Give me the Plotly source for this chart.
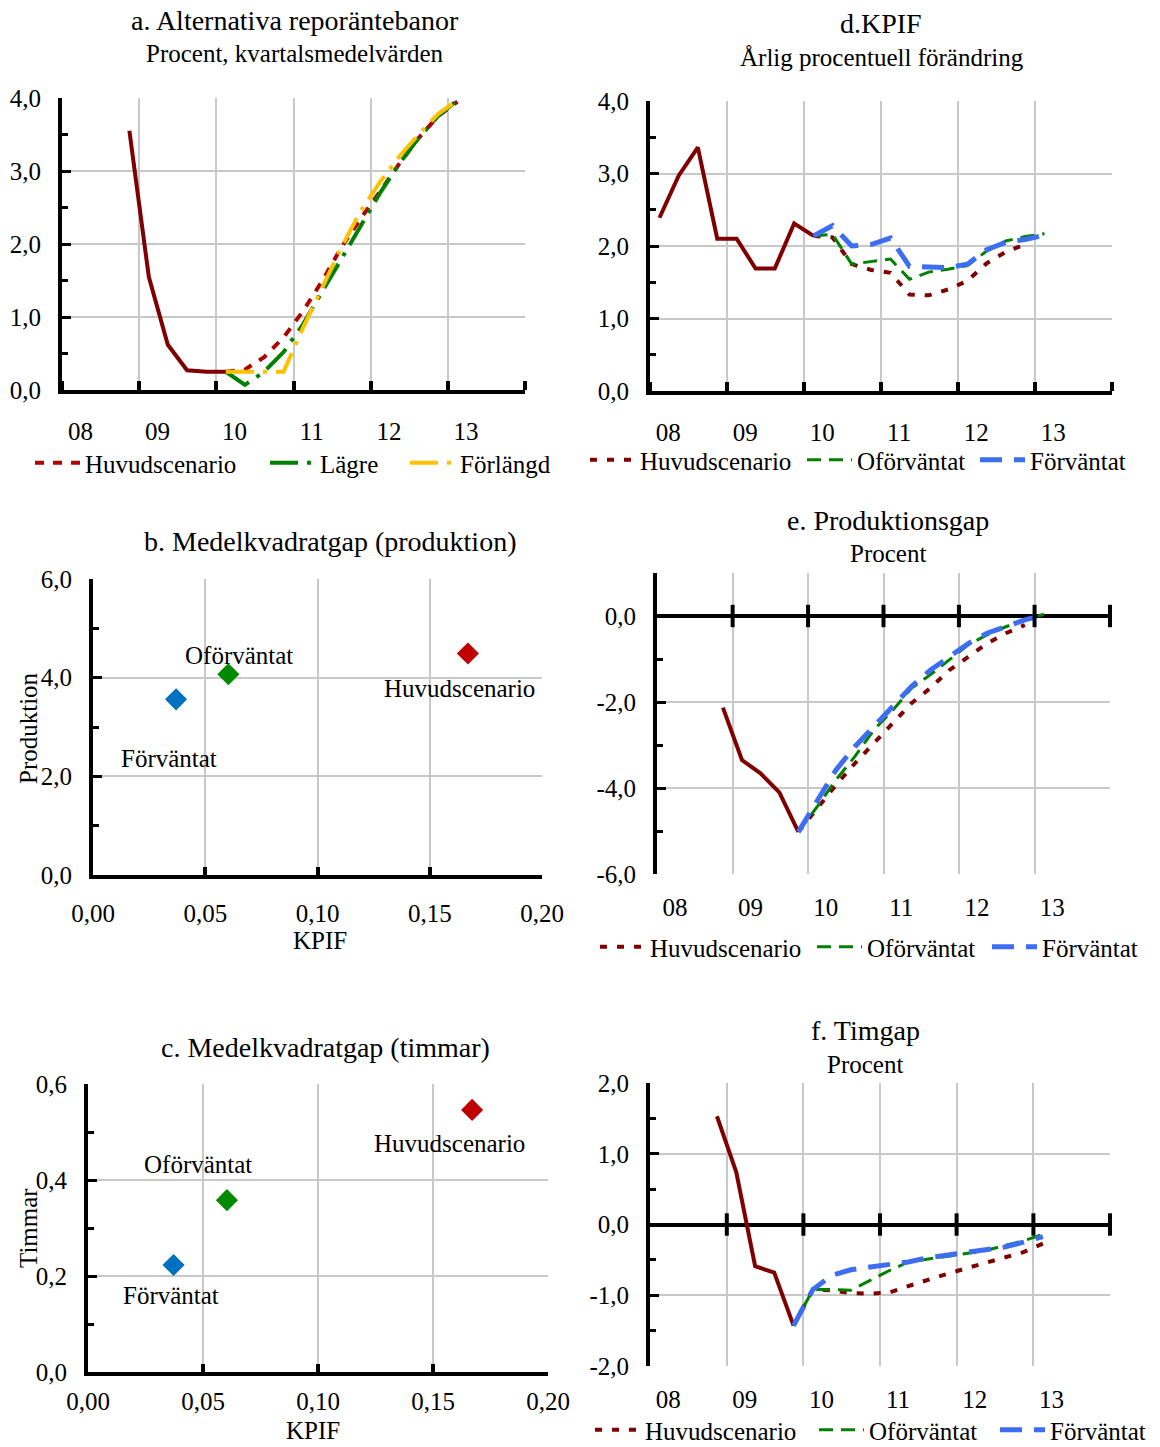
import plotly.graph_objects as go
import pandas as pd

W, H = 1160, 1447
FONT = "Liberation Serif, Times New Roman, serif"
GRID = "#c8c8c8"
DARKRED = "#7f0000"
RED_A = "#b00000"
GREEN = "#008000"
YELLOW = "#ffc000"
BLUE = "#3d6ef2"
SC_RED = "#c00000"
SC_GREEN = "#008a00"
SC_BLUE = "#0070c0"

# ---------------- data ----------------
YEAR_LABELS = ["08", "09", "10", "11", "12", "13"]
LABEL_YEARS = [2008, 2009, 2010, 2011, 2012, 2013]

# a. Alternativa reporäntebanor
A_HIST_Q = ["2008Q4", "2009Q1", "2009Q2", "2009Q3", "2009Q4", "2010Q1"]
A_HIST = [3.55, 1.55, 0.62, 0.27, 0.25, 0.25]
A_FC_Q = ["2010Q1", "2010Q2", "2010Q3", "2010Q4", "2011Q1", "2011Q2", "2011Q3",
          "2011Q4", "2012Q1", "2012Q2", "2012Q3", "2012Q4", "2013Q1"]
A_HUVUD = [0.25, 0.28, 0.45, 0.72, 1.08, 1.49, 1.95, 2.35, 2.72, 3.10, 3.45, 3.75, 3.95]
A_LAGRE = [0.25, 0.07, 0.25, 0.52, 0.90, 1.35, 1.80, 2.25, 2.70, 3.10, 3.45, 3.75, 3.97]
A_FORL = [0.25, 0.25, 0.25, 0.25, 0.85, 1.40, 1.95, 2.45, 2.85, 3.20, 3.50, 3.78, 3.97]

# d. KPIF
D_HIST_Q = ["2008Q1", "2008Q2", "2008Q3", "2008Q4", "2009Q1", "2009Q2", "2009Q3",
            "2009Q4", "2010Q1"]
D_HIST = [2.39, 2.97, 3.36, 2.10, 2.10, 1.69, 1.69, 2.31, 2.14]
D_FC_Q = A_FC_Q
D_HUVUD = [2.14, 2.12, 1.75, 1.67, 1.63, 1.33, 1.32, 1.40, 1.52, 1.76, 1.92, 2.02]
D_OFORV = [2.14, 2.16, 1.75, 1.78, 1.82, 1.54, 1.64, 1.68, 1.73, 1.93, 2.07, 2.13, 2.17]
D_FORV = [2.14, 2.28, 2.00, 2.02, 2.11, 1.72, 1.71, 1.70, 1.75, 1.95, 2.05, 2.09, 2.15]

# e. Produktionsgap
E_HIST_Q = ["2008Q4", "2009Q1", "2009Q2", "2009Q3", "2009Q4"]
E_HIST = [-2.13, -3.35, -3.66, -4.10, -5.02]
E_FC_Q = ["2009Q4"] + A_FC_Q
E_HUVUD = [-5.02, -4.47, -3.93, -3.43, -2.96, -2.50, -2.03, -1.68, -1.26, -0.95, -0.64, -0.40, -0.21]
E_OFORV = [-5.02, -4.43, -3.81, -3.27, -2.65, -2.19, -1.68, -1.37, -1.02, -0.67, -0.44, -0.25, -0.09, 0.04]
E_FORV = [-5.02, -4.28, -3.58, -3.04, -2.57, -2.11, -1.64, -1.26, -0.95, -0.64, -0.40, -0.25, -0.09, 0.02]

# f. Timgap
F_HIST_Q = E_HIST_Q
F_HIST = [1.53, 0.74, -0.59, -0.68, -1.43]
F_FC_Q = E_FC_Q
F_HUVUD = [-1.43, -0.92, -0.93, -0.97, -0.98, -0.96, -0.87, -0.78, -0.70, -0.62, -0.54, -0.46, -0.39, -0.27]
F_OFORV = [-1.43, -0.92, -0.92, -0.93, -0.79, -0.65, -0.53, -0.49, -0.44, -0.41, -0.37, -0.30, -0.23, -0.14]
F_FORV = [-1.43, -0.92, -0.72, -0.64, -0.60, -0.57, -0.53, -0.47, -0.43, -0.40, -0.36, -0.32, -0.25, -0.17]

# b./c. Medelkvadratgap
SC_NAMES = ["Huvudscenario", "Oförväntat", "Förväntat"]
B_KPIF = [0.167, 0.0603, 0.037]
B_PROD = [4.49, 4.07, 3.56]
C_KPIF = [0.167, 0.0604, 0.0372]
C_TIM = [0.546, 0.358, 0.223]

# ---------------- helpers ----------------
def qdates(qs):
    return [(p.start_time + pd.Timedelta(days=45)).strftime("%Y-%m-%d")
            for p in pd.PeriodIndex(qs, freq="Q")]


def xdom(x0, x1):
    return [x0 / W, x1 / W]


def ydom(y0, y1):
    return [1 - y1 / H, 1 - y0 / H]


FS = 25
TICKFONT = dict(family=FONT, size=FS, color="black")


def comma(v, nd):
    return f"{v:.{nd}f}".replace(".", ",")


def time_axes(xpx, ypx, yticks, mdtick, zero_mid):
    xa = dict(
        domain=xdom(*xpx), type="date", range=["2008-01-01", "2014-01-01"],
        tickmode="array", tickvals=[f"{y}-03-28" for y in LABEL_YEARS],
        ticktext=YEAR_LABELS, ticks="", showgrid=False, zeroline=False,
        showline=not zero_mid, linecolor="black", linewidth=4,
        tickfont=TICKFONT, ticklabelstandoff=16, fixedrange=True, automargin=False,
        minor=dict(tickmode="linear", tick0="2008-01-01", dtick="M12",
                   showgrid=True, gridcolor=GRID, gridwidth=1.5,
                   ticks="" if zero_mid else "inside", ticklen=9,
                   tickwidth=4, tickcolor="black"),
    )
    ya = dict(
        domain=ydom(*ypx), range=[yticks[0], yticks[-1]],
        tickmode="array", tickvals=yticks, ticktext=[comma(v, 1) for v in yticks],
        ticks="inside", ticklen=9, tickwidth=3, tickcolor="black",
        showline=True, linecolor="black", linewidth=4, showgrid=True,
        gridcolor=GRID, gridwidth=1.5, zeroline=zero_mid, zerolinecolor="black",
        zerolinewidth=4, tickfont=TICKFONT, ticklabelstandoff=12, fixedrange=True,
        automargin=False,
        minor=dict(tickmode="linear", tick0=0, dtick=mdtick, ticks="inside",
                   ticklen=6, tickwidth=3, tickcolor="black", showgrid=False),
    )
    return xa, ya


def scatter_axes(xpx, ypx, yticks, mdtick, standoff):
    xt = [0, 0.05, 0.10, 0.15, 0.20]
    xa = dict(
        domain=xdom(*xpx), range=[0, 0.2], tickmode="array", tickvals=xt,
        ticktext=[comma(v, 2) for v in xt], ticks="inside", ticklen=8, tickwidth=4,
        tickcolor="black", showline=True, linecolor="black", linewidth=4,
        showgrid=True, gridcolor=GRID, gridwidth=1.5, zeroline=False,
        tickfont=TICKFONT, ticklabelstandoff=standoff, fixedrange=True,
        automargin=False,
    )
    ya = dict(
        domain=ydom(*ypx), range=[yticks[0], yticks[-1]], tickmode="array",
        tickvals=yticks, ticktext=[comma(v, 1) for v in yticks],
        ticks="inside", ticklen=9, tickwidth=3, tickcolor="black",
        showline=True, linecolor="black", linewidth=4, showgrid=True,
        gridcolor=GRID, gridwidth=1.5, zeroline=False, tickfont=TICKFONT,
        ticklabelstandoff=12, fixedrange=True, automargin=False,
        minor=dict(tickmode="linear", tick0=0, dtick=mdtick, ticks="inside",
                   ticklen=6, tickwidth=3, tickcolor="black", showgrid=False),
    )
    return xa, ya


fig = go.Figure()
legends = {}
ITEMW = 45


def add_legend(key, text_x, yp):
    legends[key] = dict(
        orientation="h", x=(text_x - ITEMW - 13) / W, y=1 - yp / H,
        xanchor="left", yanchor="middle",
        font=dict(family=FONT, size=FS, color="black"),
        itemwidth=ITEMW, bgcolor="rgba(0,0,0,0)", borderwidth=0)


def line(xq, y, color, width, dash, name, ax, legend=None):
    fig.add_trace(go.Scatter(
        x=qdates(xq), y=y, mode="lines", name=name,
        line=dict(color=color, width=width, dash=dash),
        xaxis="x" + ax, yaxis="y" + ax,
        showlegend=legend is not None, legend=legend or "legend",
        hoverinfo="skip"))


# ---- panel a (x/y) ----
line(A_HIST_Q, A_HIST, DARKRED, 4, "solid", "Utfall", "")
line(A_FC_Q, A_HUVUD, RED_A, 4, "9px,9px", "Huvudscenario", "", "legend")
line(A_FC_Q, A_LAGRE, GREEN, 4, "28px,9px,4px,9px", "Lägre", "", "legend2")
line(A_FC_Q, A_FORL, YELLOW, 4, "28px,9px,4px,9px", "Förlängd", "", "legend3")
add_legend("legend", 88, 463)
add_legend("legend2", 323, 463)
add_legend("legend3", 463, 463)

# ---- panel d (x2/y2) ----
line(D_HIST_Q, D_HIST, DARKRED, 4, "solid", "Utfall", "2")
line(D_FC_Q[:len(D_HUVUD)], D_HUVUD, DARKRED, 4, "7px,10px", "Huvudscenario", "2", "legend4")
line(D_FC_Q, D_OFORV, GREEN, 3, "14px,8px", "Oförväntat", "2", "legend5")
line(D_FC_Q, D_FORV, BLUE, 5, "22px,12px", "Förväntat", "2", "legend6")
add_legend("legend4", 643, 460)
add_legend("legend5", 860, 460)
add_legend("legend6", 1033, 460)

# ---- panel e (x4/y4) ----
line(E_HIST_Q, E_HIST, DARKRED, 4, "solid", "Utfall", "4")
line(E_FC_Q[:len(E_HUVUD)], E_HUVUD, DARKRED, 4, "7px,10px", "Huvudscenario", "4", "legend7")
line(E_FC_Q, E_OFORV, GREEN, 3, "14px,8px", "Oförväntat", "4", "legend8")
line(E_FC_Q, E_FORV, BLUE, 5, "22px,12px", "Förväntat", "4", "legend9")
add_legend("legend7", 653, 947)
add_legend("legend8", 870, 947)
add_legend("legend9", 1045, 947)

# ---- panel f (x6/y6) ----
line(F_HIST_Q, F_HIST, DARKRED, 4, "solid", "Utfall", "6")
line(F_FC_Q, F_HUVUD, DARKRED, 4, "7px,10px", "Huvudscenario", "6", "legend10")
line(F_FC_Q, F_OFORV, GREEN, 3, "14px,8px", "Oförväntat", "6", "legend11")
line(F_FC_Q, F_FORV, BLUE, 5, "22px,12px", "Förväntat", "6", "legend12")
add_legend("legend10", 648, 1430)
add_legend("legend11", 872, 1430)
add_legend("legend12", 1053, 1430)

# tick marks crossing the zero line in e and f
for ax in ["4", "6"]:
    fig.add_trace(go.Scatter(
        x=[f"{y}-01-01" for y in LABEL_YEARS[1:]] + ["2014-01-01"], y=[0] * 6,
        mode="markers", marker=dict(symbol="line-ns", size=16,
                                    line=dict(color="black", width=4)),
        xaxis="x" + ax, yaxis="y" + ax, showlegend=False, hoverinfo="skip",
        cliponaxis=False))

# ---- scatter panels b (x3/y3) and c (x5/y5) ----
SC_COLORS = [SC_RED, SC_GREEN, SC_BLUE]
for xs, ys, ax in [(B_KPIF, B_PROD, "3"), (C_KPIF, C_TIM, "5")]:
    fig.add_trace(go.Scatter(
        x=xs, y=ys, mode="markers",
        marker=dict(symbol="diamond", size=17, color=SC_COLORS),
        xaxis="x" + ax, yaxis="y" + ax, showlegend=False, hoverinfo="skip"))

annotations = []
B_SHIFTS = [(-8, -35), (11, 19), (-7, -59)]
C_SHIFTS = [(-23, -34), (-29, 36), (-3, -31)]
for xs, ys, ax, shifts in [(B_KPIF, B_PROD, "3", B_SHIFTS), (C_KPIF, C_TIM, "5", C_SHIFTS)]:
    for name, xv, yv, (dx, dy) in zip(SC_NAMES, xs, ys, shifts):
        annotations.append(dict(
            x=xv, y=yv, xref="x" + ax, yref="y" + ax, text=name, showarrow=False,
            xshift=dx, yshift=dy, font=dict(family=FONT, size=FS, color="black")))

# titles
TITLES = [
    ("a. Alternativa reporäntebanor", 295, 20, 28),
    ("Procent, kvartalsmedelvärden", 295, 54, 25),
    ("d.KPIF", 881, 23, 28),
    ("Årlig procentuell förändring", 882, 58, 25),
    ("b. Medelkvadratgap (produktion)", 330, 541, 28),
    ("e. Produktionsgap", 888, 520, 28),
    ("Procent", 888, 553, 25),
    ("c. Medelkvadratgap (timmar)", 325, 1047, 28),
    ("f. Timgap", 865, 1030, 28),
    ("Procent", 865, 1064, 25),
]
for text, xp, yp, size in TITLES:
    annotations.append(dict(
        x=xp / W, y=1 - yp / H, xref="paper", yref="paper", text=text,
        showarrow=False, xanchor="center", yanchor="middle",
        font=dict(family=FONT, size=size, color="black")))

AXIS_TITLES = [
    ("Produktion", 28, 728, -90, "middle"),
    ("KPIF", 320, 940, 0, "middle"),
    ("Timmar", 28, 1228, -90, "middle"),
    ("KPIF", 313, 1446, 0, "bottom"),
]
for text, xp, yp, ang, yanc in AXIS_TITLES:
    annotations.append(dict(
        x=xp / W, y=1 - yp / H, xref="paper", yref="paper", text=text,
        showarrow=False, xanchor="center", yanchor=yanc, textangle=ang,
        font=dict(family=FONT, size=FS, color="black")))

xa, ya = time_axes((62, 525), (98, 390), [0, 1, 2, 3, 4], 0.5, False)
x2, y2 = time_axes((650, 1112), (101, 391), [0, 1, 2, 3, 4], 0.5, False)
x4, y4 = time_axes((657, 1110), (573, 874), [-6, -4, -2, 0], 1, True)
y4["range"] = [-6, 1]
x6, y6 = time_axes((650, 1110), (1083, 1366), [-2, -1, 0, 1, 2], 0.5, True)
x3, y3 = scatter_axes((93, 542), (579, 875), [0, 2, 4, 6], 1, 13)
x5, y5 = scatter_axes((88, 548), (1084, 1372), [0, 0.2, 0.4, 0.6], 0.1, 4)

for d, n in [(xa, "y"), (x2, "y2"), (x3, "y3"), (x4, "y4"), (x5, "y5"), (x6, "y6")]:
    d["anchor"] = n
for d, n in [(ya, "x"), (y2, "x2"), (y3, "x3"), (y4, "x4"), (y5, "x5"), (y6, "x6")]:
    d["anchor"] = n

fig.update_layout(
    width=W, height=H, margin=dict(l=0, r=0, t=0, b=0, autoexpand=False),
    paper_bgcolor="white", plot_bgcolor="white",
    font=dict(family=FONT, size=FS, color="black"),
    xaxis=xa, yaxis=ya, xaxis2=x2, yaxis2=y2, xaxis3=x3, yaxis3=y3,
    xaxis4=x4, yaxis4=y4, xaxis5=x5, yaxis5=y5, xaxis6=x6, yaxis6=y6,
    annotations=annotations, hovermode=False, **legends,
)

fig.write_html("out.html", config={"displayModeBar": False},
               post_script="document.body.style.margin='0px';")
